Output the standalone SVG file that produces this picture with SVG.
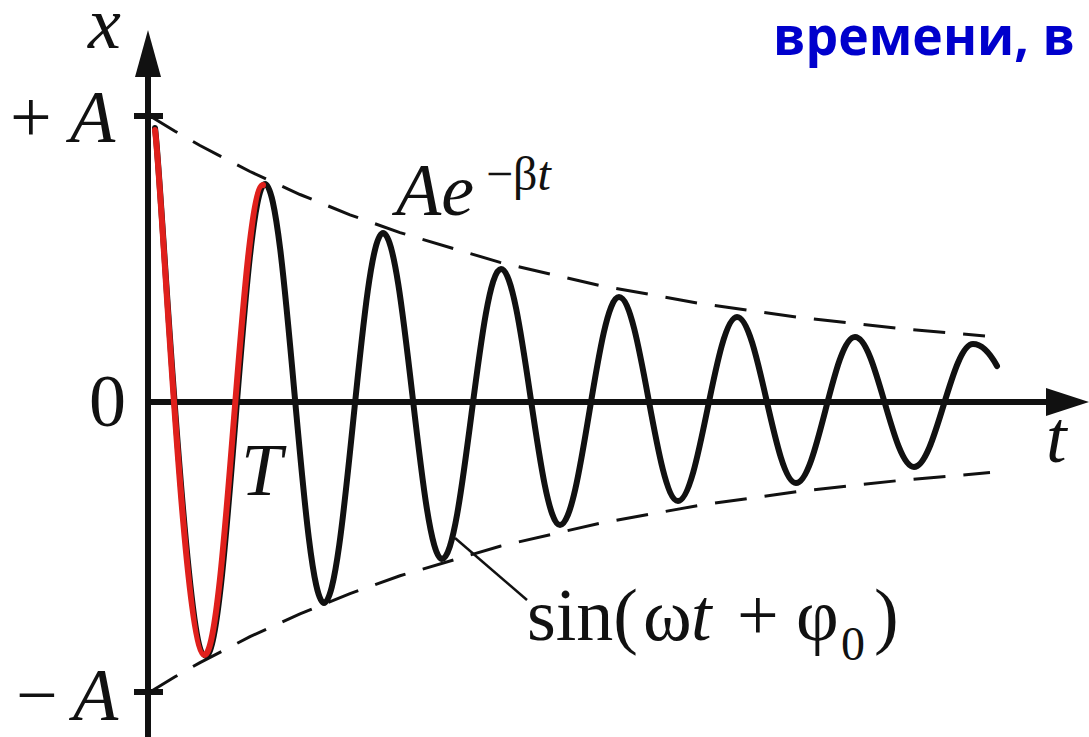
<svg xmlns="http://www.w3.org/2000/svg" width="1089" height="737" viewBox="0 0 1089 737">
<style>
.ax{stroke:#111;stroke-width:6;fill:none}
.env{stroke:#111;stroke-width:3;fill:none;stroke-dasharray:32 18}
.crv{stroke:#111;stroke-width:6;fill:none;stroke-linejoin:round;stroke-linecap:round}
.red{stroke:#e0201c;stroke-width:6;fill:none;stroke-linecap:round}
.m{font-family:"Liberation Serif","Times New Roman",serif;font-size:74px;fill:#111}
.i{font-style:italic}
.s{font-size:48px}
.title{font-family:"Open Sans","Noto Sans",sans-serif;font-weight:bold;font-size:54px;fill:#0000cc}
</style>
<rect width="1089" height="737" fill="#fff"/>
<g id="axes">
<line class="ax" x1="148" y1="737" x2="148" y2="72"/>
<polygon points="148,30 135,77 161,77" fill="#111"/>
<line class="ax" x1="148" y1="402" x2="1050" y2="402"/>
<polygon points="1089,402 1046,388 1046,416" fill="#111"/>
<line class="ax" x1="134" y1="116" x2="163" y2="116"/>
<line class="ax" x1="134" y1="692" x2="163" y2="692"/>
</g>
<g id="envelopes">
<polyline class="env" points="150,116 175,131.2 200,145.5 250,171.5 300,194.5 350,214.8 400,232.6 500,262.4 600,285.5 700,303.5 800,317.6 900,328.5 985,335.9"/>
<polyline class="env" points="150,692 175,676.8 200,662.6 250,636.7 300,613.8 350,593.6 400,575.8 500,546.2 600,523.2 700,505.2 800,491.2 900,480.4 990,472.6"/>
</g>
<g id="oscillation">
<path class="crv" d="M155,128 C162,180 184.6,656 206,656 C227.4,656 243.6,184 265,184 C286.4,184 302.6,603 324,603 C345.4,603 361.6,233 383,233 C404.4,233 420.6,559 442,559 C463.4,559 479.6,269 501,269 C522.4,269 538.6,525 560,525 C581.4,525 597.6,297 619,297 C640.4,297 656.6,501 678,501 C699.4,501 715.6,317 737,317 C758.4,317 774.6,483 796,483 C817.4,483 833.6,337 855,337 C876.4,337 892.6,467 914,467 C935.4,467 951.6,344 973,344 C983,344 991,355 997,366"/>
<path class="red" d="M155,130 C162,180 183.6,655 204.5,655 C225.9,655 242,184 263,185"/>
</g>
<g id="connectors">
<line x1="455" y1="538" x2="527" y2="600" stroke="#111" stroke-width="2.5"/>
</g>
<g id="labels">
<text class="m i" x="88" y="48" font-size="68">x</text>
<text class="m" x="10" y="142">+</text>
<text class="m i" x="70" y="142">A</text>
<text class="m" x="89" y="426">0</text>
<text class="m i" x="241" y="495">T</text>
<text class="m" x="16" y="720">−</text>
<text class="m i" x="73" y="720">A</text>
<text class="m i" x="1046" y="462">t</text>
<text class="m i" x="396" y="215">Ae</text>
<text class="m s" x="486" y="190">−β<tspan class="i">t</tspan></text>
<text class="m" x="527" y="640">sin(</text>
<text class="m" x="643" y="640">ω</text>
<text class="m i" x="691" y="640">t</text>
<text class="m" x="737" y="640">+</text>
<text class="m" x="796" y="640">φ</text>
<text class="m s" x="841" y="660">0</text>
<text class="m" x="874" y="640">)</text>
</g>
<g id="title">
<text class="title" x="773" y="55" textLength="302" lengthAdjust="spacingAndGlyphs">времени, в</text>
</g>
</svg>
